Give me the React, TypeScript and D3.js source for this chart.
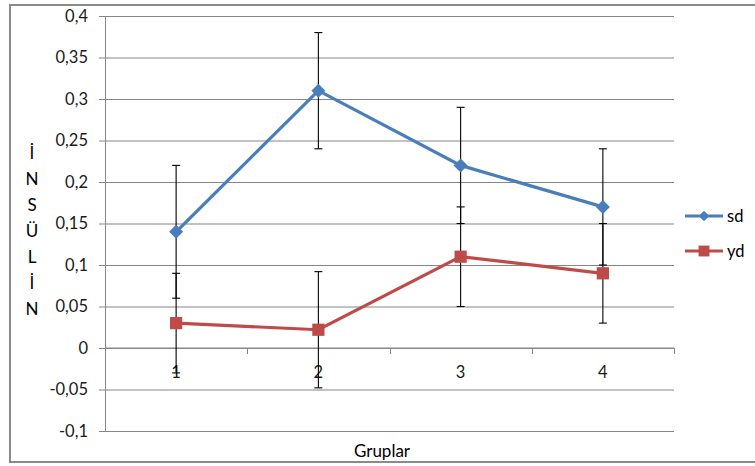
import React, { useRef, useEffect } from 'react'
import * as d3 from 'd3'

const groups = ['1', '2', '3', '4']
const sdValues = [0.14, 0.31, 0.22, 0.17]
const sdErrors = [0.08, 0.07, 0.07, 0.07]
const ydValues = [0.03, 0.022, 0.11, 0.09]
const ydErrors = [0.06, 0.07, 0.06, 0.06]
const yTicks = [-0.1, -0.05, 0, 0.05, 0.1, 0.15, 0.2, 0.25, 0.3, 0.35, 0.4]
const yTitle = ['İ', 'N', 'S', 'Ü', 'L', 'İ', 'N']
const xTitle = 'Gruplar'

const series = [
    { name: 'sd', values: sdValues, errors: sdErrors, color: '#4A7EBB', marker: 'diamond' },
    { name: 'yd', values: ydValues, errors: ydErrors, color: '#BE4B48', marker: 'square' },
]

const App = () => {
    const visEl = useRef<HTMLDivElement>(null)
    const width = 755
    const height = 466

    useEffect(() => {
        document.body.style.margin = '0'
        const root = d3.select(visEl.current)
        root.selectAll('*').remove()
        const svg = root.append('svg')
            .attr('width', width)
            .attr('height', height)
            .style('display', 'block')
            .style('font-family', 'Lato, "Open Sans", sans-serif')

        const margin = { top: 16, left: 105, right: 81, bottom: 35 }
        const innerWidth = width - margin.left - margin.right
        const innerHeight = height - margin.top - margin.bottom
        const fmt = (v: number) => d3.format('~g')(+v.toFixed(2)).replace('.', ',').replace('−', '-')

        svg.append('rect')
            .attr('x', 10).attr('y', 5)
            .attr('width', width - 9).attr('height', 457)
            .attr('fill', 'white')
            .attr('stroke', '#8a8a8a').attr('stroke-width', 2)

        const xScale = d3.scaleBand().domain(groups).range([0, innerWidth])
        const yScale = d3.scaleLinear().domain([-0.1, 0.4]).range([innerHeight, 0])
        const cx = (i: number) => xScale(groups[i])! + xScale.bandwidth() / 2

        const g = svg.append('g').attr('transform', `translate(${margin.left},${margin.top})`)

        // gridlines + y axis
        const yAxis = d3.axisLeft(yScale).tickValues(yTicks).tickSize(6).tickPadding(11).tickFormat(d => fmt(d as number))
        const yAxisG = g.append('g').call(yAxis)
        yAxisG.select('.domain').attr('stroke', '#868686').attr('d', `M0.5,0V${innerHeight}`)
        yAxisG.selectAll('.tick line').attr('stroke', '#868686').attr('x2', innerWidth).attr('x1', -6)
        yAxisG.selectAll('.tick text')
            .attr('fill', '#1a1a1a').attr('font-size', 16.5).attr('font-family', 'Lato, sans-serif')

        // x axis at zero
        const xAxisG = g.append('g').attr('transform', `translate(0,${yScale(0)})`)
        xAxisG.append('line').attr('x1', 0).attr('x2', innerWidth).attr('stroke', '#868686')
        xAxisG.selectAll('.xt').data(d3.range(1, groups.length + 1)).enter().append('line')
            .attr('x1', d => Math.round(d * xScale.bandwidth()) + 0.5)
            .attr('x2', d => Math.round(d * xScale.bandwidth()) + 0.5)
            .attr('y1', 0).attr('y2', 6).attr('stroke', '#868686')
        xAxisG.selectAll('.xl').data(groups).enter().append('text')
            .attr('x', (d, i) => cx(i)).attr('y', 30)
            .attr('text-anchor', 'middle').attr('font-size', 16.5).attr('fill', '#1a1a1a')
            .text(d => d)

        // error bars
        series.forEach(s => {
            const eg = g.append('g').attr('stroke', '#000').attr('stroke-width', 1.1)
            s.values.forEach((v, i) => {
                const x = cx(i)
                const y1 = yScale(v + s.errors[i])
                const y2 = yScale(v - s.errors[i])
                eg.append('line').attr('x1', x).attr('x2', x).attr('y1', y1).attr('y2', y2)
                eg.append('line').attr('x1', x - 4).attr('x2', x + 4).attr('y1', y1).attr('y2', y1)
                eg.append('line').attr('x1', x - 4).attr('x2', x + 4).attr('y1', y2).attr('y2', y2)
            })
        })

        const diamond = d3.symbol().type(d3.symbolDiamond2).size(125)
        const square = d3.symbol().type(d3.symbolSquare2).size(190)

        series.forEach(s => {
            const line = d3.line<number>().x((d, i) => cx(i)).y(d => yScale(d))
            g.append('path').datum(s.values)
                .attr('fill', 'none').attr('stroke', s.color).attr('stroke-width', 3.2)
                .attr('d', line)
            g.selectAll(null).data(s.values).enter().append('path')
                .attr('transform', (d, i) => `translate(${cx(i)},${yScale(d)})`)
                .attr('d', s.marker === 'diamond' ? diamond() : square())
                .attr('fill', s.color)
        })

        // y title, stacked letters
        svg.append('g').selectAll('text').data(yTitle).enter().append('text')
            .attr('x', 32).attr('y', (d, i) => 159 + i * 26)
            .attr('text-anchor', 'middle').attr('font-size', 17).attr('fill', '#000')
            .text(d => d)

        svg.append('text')
            .attr('x', 382).attr('y', 457)
            .attr('text-anchor', 'middle').attr('font-size', 17).attr('fill', '#000')
            .text(xTitle)

        // legend
        const legend = svg.append('g').attr('transform', 'translate(685,216)')
        series.forEach((s, i) => {
            const lg = legend.append('g').attr('transform', `translate(0,${i * 35})`)
            lg.append('line').attr('x1', 0).attr('x2', 38).attr('stroke', s.color).attr('stroke-width', 3.2)
            lg.append('path').attr('transform', 'translate(19,0)')
                .attr('d', s.marker === 'diamond' ? d3.symbol().type(d3.symbolDiamond2).size(70)() : d3.symbol().type(d3.symbolSquare2).size(150)())
                .attr('fill', s.color)
            lg.append('text').attr('x', 42).attr('y', 6)
                .attr('font-size', 16.5).attr('fill', '#000').text(s.name)
        })
    }, [])

    return (
        <div>
            <div ref={visEl}></div>
        </div>
    )
}

export default App
